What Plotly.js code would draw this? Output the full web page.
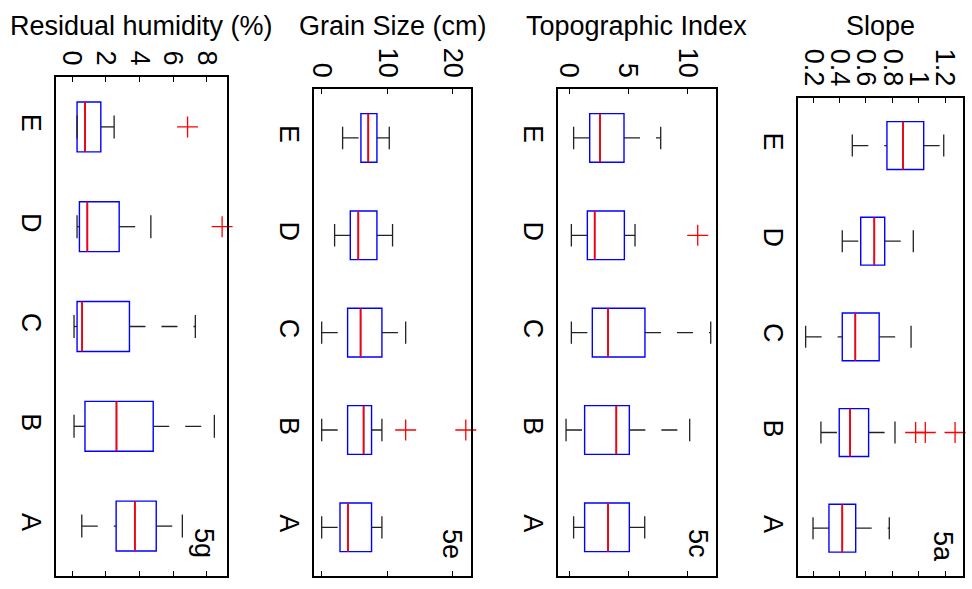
<!DOCTYPE html>
<html>
<head>
<meta charset="utf-8">
<script src="https://cdn.plot.ly/plotly-3.0.1.min.js"></script>
<style>html,body{margin:0;padding:0;background:#fff;}#chart{width:972px;height:589px;}</style>
</head>
<body>
<div id="chart"></div>
<script>
// ---- data ----
const categories = ['A', 'B', 'C', 'D', 'E'];
const titles = ['Residual humidity (%)', 'Grain Size (cm)', 'Topographic Index', 'Slope'];
const tags = ['5g', '5e', '5c', '5a'];

// Residual humidity (%)
const humQ1  = [2.62, 0.77, 0.30, 0.44, 0.30];
const humMed = [3.73, 2.64, 0.60, 0.91, 0.77];
const humQ3  = [5.00, 4.82, 3.41, 2.80, 1.71];
const humLo  = [0.58, 0.12, 0.12, 0.30, 0.30];
const humHi  = [6.55, 8.45, 7.32, 4.68, 2.50];
const humOutCat = ['D', 'E'];
const humOutVal = [8.91, 6.86];

// Grain Size (cm)
const grnQ1  = [2.79, 3.95, 3.95, 4.36, 5.98];
const grnMed = [4.00, 6.39, 5.93, 5.58, 7.10];
const grnQ3  = [7.60, 7.60, 9.18, 8.42, 8.42];
const grnLo  = [0.00, 0.00, 0.00, 1.97, 3.19];
const grnHi  = [9.18, 9.18, 12.8, 10.8, 10.3];
const grnOutCat = ['B', 'B'];
const grnOutVal = [12.8, 21.96];

// Topographic Index
const topQ1  = [1.32, 1.32, 1.97, 1.55, 1.75];
const topMed = [3.30, 4.00, 3.30, 2.17, 2.62];
const topQ3  = [5.10, 5.10, 6.42, 4.68, 4.65];
const topLo  = [0.39, -0.25, 0.20, 0.20, 0.39];
const topHi  = [6.40, 10.2, 11.98, 5.58, 7.75];
const topOutCat = ['D'];
const topOutVal = [10.88];

// Slope
const slpQ1  = [0.319, 0.397, 0.420, 0.560, 0.759];
const slpMed = [0.420, 0.479, 0.519, 0.663, 0.881];
const slpQ3  = [0.522, 0.620, 0.700, 0.742, 1.038];
const slpLo  = [0.198, 0.258, 0.142, 0.420, 0.496];
const slpHi  = [0.777, 0.820, 0.942, 0.959, 1.190];
const slpOutCat = ['B', 'B', 'B'];
const slpOutVal = [0.977, 1.05, 1.276];

// ---- layout (pixels) ----
const W = 972, H = 589;
const series = [
  {q1: humQ1, med: humMed, q3: humQ3, lo: humLo, hi: humHi, oc: humOutCat, ov: humOutVal},
  {q1: grnQ1, med: grnMed, q3: grnQ3, lo: grnLo, hi: grnHi, oc: grnOutCat, ov: grnOutVal},
  {q1: topQ1, med: topMed, q3: topQ3, lo: topLo, hi: topHi, oc: topOutCat, ov: topOutVal},
  {q1: slpQ1, med: slpMed, q3: slpQ3, lo: slpLo, hi: slpHi, oc: slpOutCat, ov: slpOutVal}
];
const frames = [
  {l: 56, r: 227, t: 77, b: 576, range: [-0.95, 9.2], dtick: 2, tick0: 0},
  {l: 314, r: 471.3, t: 89.3, b: 576, range: [-1.17, 22.8], dtick: 10, tick0: 0},
  {l: 558, r: 715.7, t: 89.3, b: 576, range: [-0.93, 12.4], dtick: 5, tick0: 0},
  {l: 798, r: 962.7, t: 97.7, b: 576, range: [0.084, 1.334], dtick: 0.2, tick0: 0.2}
];
const tagPos = [[204, 543], [452, 544], [698, 543], [943, 546]];

const FONT = 'Liberation Sans, Arial, sans-serif';
const FS = 27;
const pos = categories.map((c, i) => i + 1);
const catPos = c => categories.indexOf(c) + 1;
const CAP = 0.115, HALF = 0.25;

const traces = [];
const layout = {
  width: W, height: H,
  margin: {l: 0, r: 0, t: 0, b: 0},
  paper_bgcolor: '#fff', plot_bgcolor: '#fff',
  showlegend: false,
  font: {family: FONT, size: FS, color: '#000'},
  annotations: []
};

series.forEach((s, k) => {
  const n = k === 0 ? '' : String(k + 1);
  const xa = 'x' + n, ya = 'y' + n;
  const f = frames[k];

  traces.push({
    type: 'box', orientation: 'h', xaxis: xa, yaxis: ya,
    y: pos, q1: s.q1, median: s.med, q3: s.q3,
    lowerfence: s.q1, upperfence: s.q3,
    width: 0.5, whiskerwidth: 0, boxpoints: false,
    line: {color: '#0000ff', width: 1.4}, fillcolor: 'rgba(0,0,0,0)',
    hoverinfo: 'skip'
  });

  // dashed whiskers (lower drawn from fence to box, upper from box to fence)
  const wx = [], wy = [], cx = [], cy = [], mx = [], my = [];
  s.q1.forEach((q, i) => {
    const p = pos[i];
    wx.push(s.lo[i], s.q1[i], null, s.q3[i], s.hi[i], null);
    wy.push(p, p, null, p, p, null);
    cx.push(s.lo[i], s.lo[i], null, s.hi[i], s.hi[i], null);
    cy.push(p - CAP, p + CAP, null, p - CAP, p + CAP, null);
    mx.push(s.med[i], s.med[i], null);
    my.push(p - HALF, p + HALF, null);
  });
  traces.push({type: 'scatter', mode: 'lines', xaxis: xa, yaxis: ya, x: wx, y: wy,
    line: {color: '#222', width: 1.3, dash: '16px,16px'}, hoverinfo: 'skip', cliponaxis: false});
  traces.push({type: 'scatter', mode: 'lines', xaxis: xa, yaxis: ya, x: cx, y: cy,
    line: {color: '#222', width: 1.3}, hoverinfo: 'skip', cliponaxis: false});
  traces.push({type: 'scatter', mode: 'lines', xaxis: xa, yaxis: ya, x: mx, y: my,
    line: {color: '#ff0000', width: 1.8}, hoverinfo: 'skip'});
  traces.push({type: 'scatter', mode: 'markers', xaxis: xa, yaxis: ya,
    x: s.ov, y: s.oc.map(catPos),
    marker: {symbol: 'cross-thin', size: 15, line: {color: '#ff0000', width: 1.3}},
    hoverinfo: 'skip', cliponaxis: false});

  layout['xaxis' + n] = {
    domain: [f.l / W, f.r / W], anchor: ya, range: f.range,
    tick0: f.tick0, dtick: f.dtick, side: 'top',
    ticks: 'inside', ticklen: 5, tickwidth: 1, tickcolor: '#000',
    showline: true, linecolor: '#000', linewidth: 2, mirror: 'ticks',
    showgrid: false, zeroline: false, tickangle: 90,
    tickfont: {family: FONT, size: FS, color: '#000'}
  };
  layout['yaxis' + n] = {
    domain: [1 - f.b / H, 1 - f.t / H], anchor: xa, range: [0.5, 5.5],
    tickvals: pos, ticktext: categories, ticks: '',
    showline: true, linecolor: '#000', linewidth: 2, mirror: true,
    showgrid: false, zeroline: false, tickangle: 90,
    tickfont: {family: FONT, size: FS, color: '#000'}
  };

  layout.annotations.push({
    xref: 'paper', yref: 'paper', x: (f.l + f.r) / 2 / W, y: 1 - 26 / H,
    xanchor: 'center', yanchor: 'middle', showarrow: false,
    text: titles[k], font: {family: FONT, size: FS, color: '#000'}
  });
  layout.annotations.push({
    xref: 'paper', yref: 'paper', x: tagPos[k][0] / W, y: 1 - tagPos[k][1] / H,
    xanchor: 'center', yanchor: 'middle', showarrow: false, textangle: 90,
    text: tags[k], font: {family: FONT, size: FS, color: '#000'}
  });
});

Plotly.newPlot('chart', traces, layout, {staticPlot: true, displayModeBar: false});
</script>
</body>
</html>
